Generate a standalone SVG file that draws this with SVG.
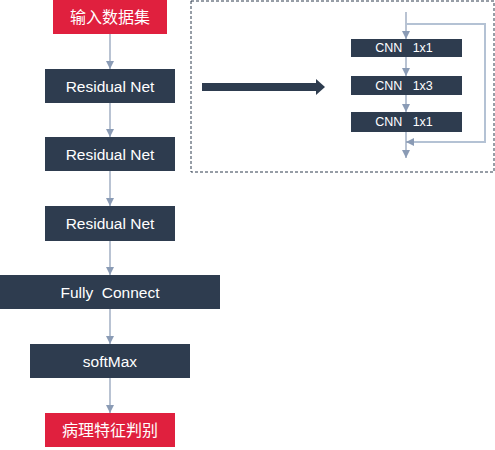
<svg xmlns="http://www.w3.org/2000/svg" width="495" height="450" viewBox="0 0 495 450">
<defs>
<style>
.dark{fill:#2e3c4f}
.red{fill:#e0203e}
.t{font-family:"Liberation Sans","Noto Sans CJK SC",sans-serif;fill:#ffffff;text-anchor:middle;dominant-baseline:central;white-space:pre}
.c{stroke:#8a9bb5;stroke-width:1.2;fill:none}
.b{stroke:#b4c2d4;stroke-width:2;fill:none}
</style>
<marker id="ah" viewBox="0 0 10 10" refX="10" refY="5" markerWidth="8" markerHeight="8" markerUnits="userSpaceOnUse" orient="auto">
<path d="M0,0 L10,5 L0,10 Z" fill="#8a9bb5"/>
</marker>
</defs>
<rect x="0" y="0" width="495" height="450" fill="#ffffff"/>
<g id="connectors">
<line class="c" x1="110" y1="34" x2="110" y2="69" marker-end="url(#ah)"/>
<line class="c" x1="110" y1="103" x2="110" y2="137" marker-end="url(#ah)"/>
<line class="c" x1="110" y1="171" x2="110" y2="206" marker-end="url(#ah)"/>
<line class="c" x1="110" y1="241" x2="110" y2="275" marker-end="url(#ah)"/>
<line class="c" x1="110" y1="309" x2="110" y2="344" marker-end="url(#ah)"/>
<line class="c" x1="110" y1="378" x2="110" y2="413" marker-end="url(#ah)"/>
<line class="c" x1="406" y1="12" x2="406" y2="39" marker-end="url(#ah)"/>
<line class="c" x1="406" y1="57" x2="406" y2="76" marker-end="url(#ah)"/>
<line class="c" x1="406" y1="95" x2="406" y2="112" marker-end="url(#ah)"/>
<line class="c" x1="406" y1="132" x2="406" y2="158" marker-end="url(#ah)"/>
<polyline class="b" points="406,24 485,24 485,142 414,142"/>
<line class="c" x1="412" y1="142" x2="406" y2="142" marker-end="url(#ah)"/>
<path d="M202,83 L316,83 L316,79 L325,87 L316,95 L316,91 L202,91 Z" fill="#2e3c4f"/>
</g>
<rect x="191" y="1" width="303" height="171" fill="none" stroke="#2e3c4f" stroke-width="1" stroke-dasharray="3,2"/>
<g id="input"><rect class="red" x="53" y="0" width="114" height="34"/><text class="t" x="110" y="17" font-size="16">输入数据集</text></g>
<g id="res1"><rect class="dark" x="45" y="69" width="130" height="34"/><text class="t" x="110" y="86" font-size="15.5">Residual Net</text></g>
<g id="res2"><rect class="dark" x="45" y="137" width="130" height="34"/><text class="t" x="110" y="154" font-size="15.5">Residual Net</text></g>
<g id="res3"><rect class="dark" x="45" y="206" width="130" height="35"/><text class="t" x="110" y="223.5" font-size="15.5">Residual Net</text></g>
<g id="fc"><rect class="dark" x="0" y="275" width="220" height="34"/><text class="t" x="110" y="292" font-size="15.5" xml:space="preserve">Fully  Connect</text></g>
<g id="softmax"><rect class="dark" x="30" y="344" width="160" height="34"/><text class="t" x="110" y="361" font-size="15.5">softMax</text></g>
<g id="output"><rect class="red" x="45" y="413" width="130" height="34"/><text class="t" x="110" y="430" font-size="16">病理特征判别</text></g>
<g id="cnn1"><rect class="dark" x="351" y="39" width="111" height="18"/><text class="t" x="404" y="48" font-size="12.5" xml:space="preserve">CNN   1x1</text></g>
<g id="cnn2"><rect class="dark" x="351" y="76" width="111" height="19"/><text class="t" x="404" y="85.5" font-size="12.5" xml:space="preserve">CNN   1x3</text></g>
<g id="cnn3"><rect class="dark" x="351" y="112" width="111" height="20"/><text class="t" x="404" y="122" font-size="12.5" xml:space="preserve">CNN   1x1</text></g>
</svg>
